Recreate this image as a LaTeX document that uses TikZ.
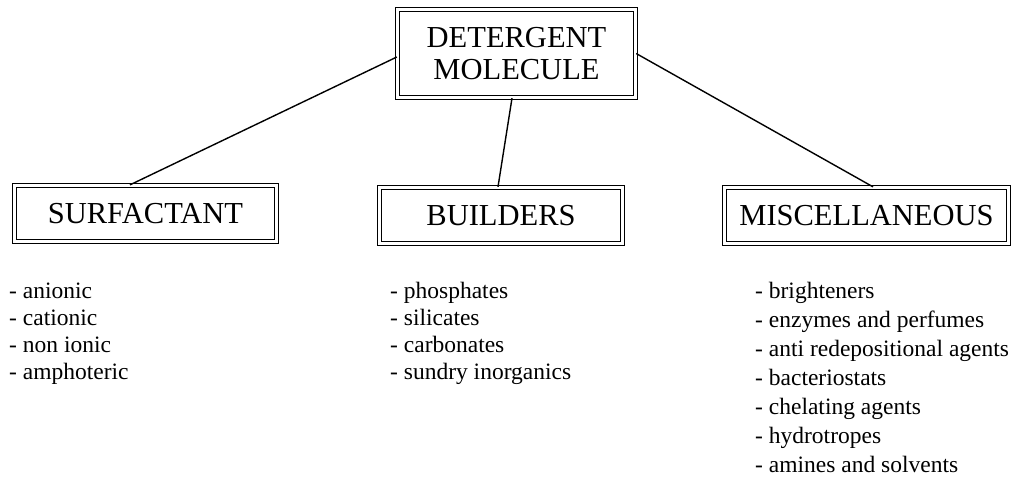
\documentclass[tikz,border=0pt]{standalone}
\usepackage{fontspec}
\setmainfont{Liberation Serif}
\begin{document}
\begin{tikzpicture}[x=1pt,y=-1pt,
  dbox/.style={draw=black, line width=1.3pt, double=white, double distance=2.4pt,
    inner sep=0pt, align=center, font=\fontsize{30.5}{32}\selectfont},
  link/.style={draw=black, line width=1.4pt},
  itemlist/.style={anchor=west, align=left, inner sep=0pt, font=\fontsize{23.5}{27}\selectfont}]
\fill[white] (0,0) rectangle (1015,494);
\useasboundingbox (0,0) rectangle (1015,494);
\node[dbox, minimum width=238pt, minimum height=88pt] (top) at (516.5,53.5) {DETERGENT\\MOLECULE};
\node[dbox, minimum width=262pt, minimum height=56pt] (surf) at (145.5,213.5) {SURFACTANT};
\node[dbox, minimum width=243pt, minimum height=56pt] (build) at (501,215.5) {BUILDERS};
\node[dbox, minimum width=284pt, minimum height=56pt] (misc) at (866.5,215.5) {MISCELLANEOUS};
\draw[link] ([yshift=-3.5pt]top.west) -- ([xshift=-15.5pt]surf.north);
\draw[link] ([xshift=-4.5pt]top.south) -- ([xshift=-3pt]build.north);
\draw[link] (top.east) -- ([xshift=6.5pt]misc.north);
\node[itemlist] (surflist) at (9,333.5) {- anionic\\- cationic\\- non ionic\\- amphoteric};
\node[itemlist] (buildlist) at (390,333.5) {- phosphates\\- silicates\\- carbonates\\- sundry inorganics};
\node[itemlist, font=\fontsize{23.5}{29}\selectfont] (misclist) at (755,377) {- brighteners\\- enzymes and perfumes\\- anti redepositional agents\\- bacteriostats\\- chelating agents\\- hydrotropes\\- amines and solvents};
\end{tikzpicture}
\end{document}
